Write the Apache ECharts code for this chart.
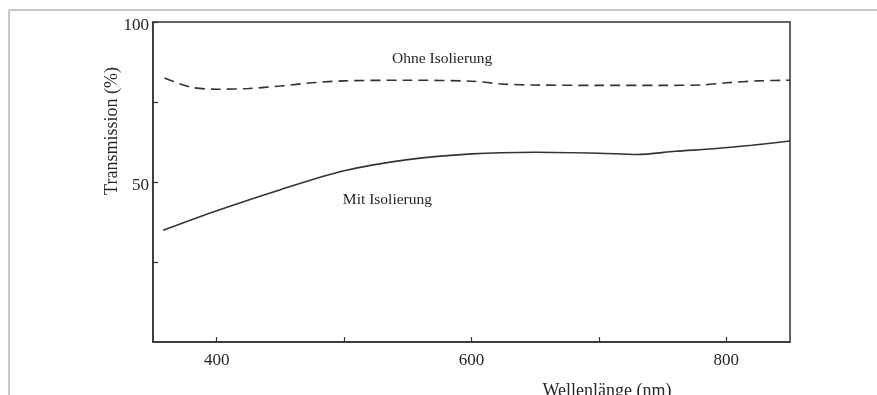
<!DOCTYPE html>
<html>
<head>
<meta charset="utf-8">
<script src="https://cdn.jsdelivr.net/npm/echarts@6/dist/echarts.min.js"></script>
<style>
html,body{margin:0;padding:0;background:#fff;}
#chart{width:877px;height:395px;}
</style>
</head>
<body>
<div id="chart"></div>
<script>
// Wavelength (nm) and transmission (%) values
const ohneWavelength = [359, 380, 400, 425, 450, 475, 500, 550, 600, 625, 650, 700, 750, 780, 800, 825, 850];
const ohneValues     = [82.5, 79.6, 79.0, 79.2, 80.0, 81.0, 81.6, 81.8, 81.5, 80.6, 80.3, 80.2, 80.2, 80.3, 81.0, 81.6, 81.8];
const mitWavelength  = [358, 400, 450, 500, 550, 600, 650, 700, 730, 760, 790, 820, 850];
const mitValues      = [34.9, 41.0, 47.6, 53.5, 57.0, 58.8, 59.3, 59.0, 58.6, 59.6, 60.4, 61.5, 62.8];
const xTicks  = [400, 500, 600, 700, 800];
const xLabels = [400, 600, 800];
const yTicks  = [25, 50, 75, 100];
const yLabels = [50, 100];
const seriesNames = ['Ohne Isolierung', 'Mit Isolierung'];
const labelPositions = [[577, 88.4], [534, 44.3]];

const font = '"Liberation Serif", "DejaVu Serif", serif';
const ink = '#262626';

const chart = echarts.init(document.getElementById('chart'));
chart.setOption({
  animation: false,
  backgroundColor: '#fff',
  grid: {left: 153, right: 87, top: 22, bottom: 53, show: true, borderColor: '#333', borderWidth: 1.5},
  xAxis: {
    type: 'value', min: 350, max: 850,
    axisLine: {show: true, lineStyle: {color: '#333', width: 1.5}},
    axisTick: {show: true, inside: true, length: 5, customValues: xTicks, lineStyle: {color: '#333', width: 1.2}},
    axisLabel: {customValues: xLabels, color: ink, fontFamily: font, fontSize: 17, margin: 10},
    splitLine: {show: false}
  },
  yAxis: {
    type: 'value', min: 0, max: 100,
    axisLine: {show: true, lineStyle: {color: '#333', width: 1.5}},
    axisTick: {show: true, inside: true, length: 5, customValues: yTicks, lineStyle: {color: '#333', width: 1.2}},
    axisLabel: {
      customValues: yLabels, margin: 4,
      formatter: '{v|{value}}',
      rich: {v: {color: ink, fontFamily: font, fontSize: 17, padding: [7, 0, 0, 0]}}
    },
    splitLine: {show: false}
  },
  graphic: [
    {type: 'line', shape: {x1: 9, y1: 10, x2: 877, y2: 10}, style: {stroke: '#c8c8c8', lineWidth: 2}},
    {type: 'line', shape: {x1: 9, y1: 10, x2: 9, y2: 395}, style: {stroke: '#c8c8c8', lineWidth: 2}},
    {type: 'text', x: 112, y: 131, rotation: Math.PI / 2, style: {text: 'Transmission (%)', fill: ink, font: '18px ' + font, align: 'center', verticalAlign: 'middle'}},
    {type: 'text', x: 607, y: 391, style: {text: 'Wellenlänge (nm)', fill: ink, font: '18px ' + font, align: 'center', verticalAlign: 'middle'}}
  ],
  series: [
    {
      name: seriesNames[0], type: 'line', showSymbol: false, smooth: 0.3,
      data: ohneWavelength.map((x, i) => [x, ohneValues[i]]),
      lineStyle: {color: '#333', width: 1.6, type: [10, 6]},
      markPoint: {
        symbol: 'circle', symbolSize: 0,
        label: {show: true, formatter: seriesNames[0], color: ink, fontFamily: font, fontSize: 15.5, position: 'inside'},
        data: [{coord: labelPositions[0]}]
      }
    },
    {
      name: seriesNames[1], type: 'line', showSymbol: false, smooth: 0.3,
      data: mitWavelength.map((x, i) => [x, mitValues[i]]),
      lineStyle: {color: '#333', width: 1.6},
      markPoint: {
        symbol: 'circle', symbolSize: 0,
        label: {show: true, formatter: seriesNames[1], color: ink, fontFamily: font, fontSize: 15.5, position: 'inside'},
        data: [{coord: labelPositions[1]}]
      }
    }
  ]
});
</script>
</body>
</html>
